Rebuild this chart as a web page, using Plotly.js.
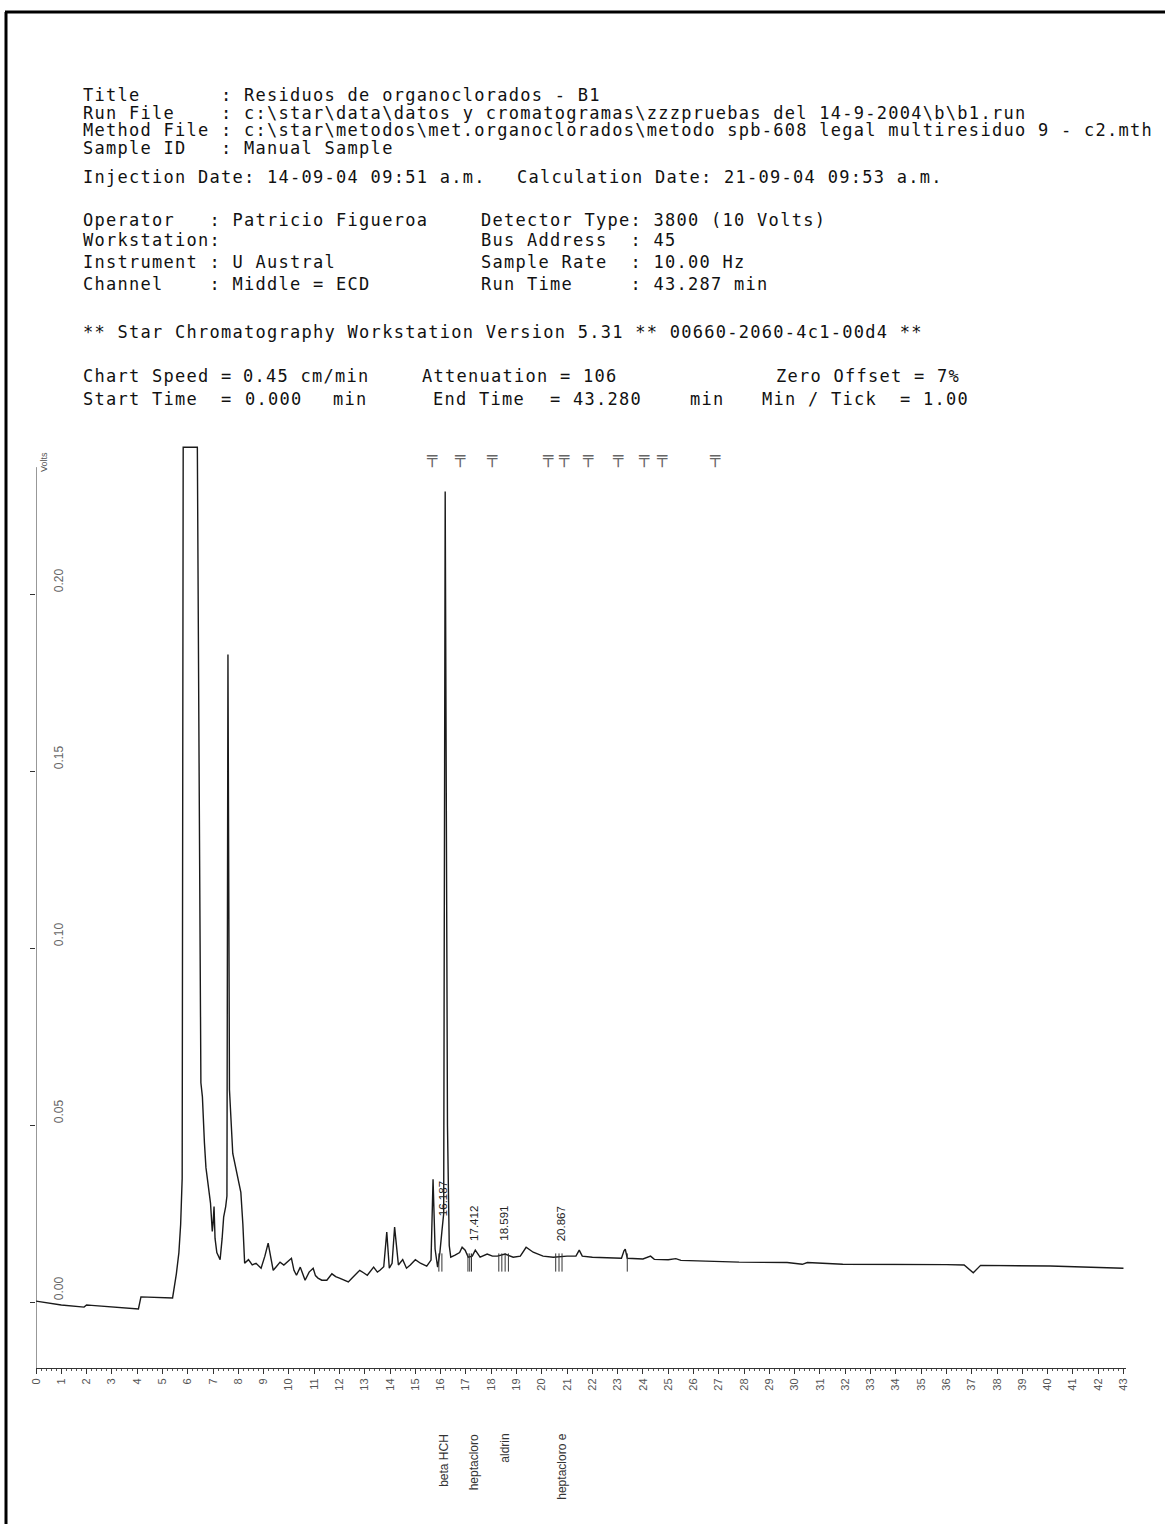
<!DOCTYPE html>
<html>
<head>
<meta charset="utf-8">
<script src="https://cdn.plot.ly/plotly-3.0.1.min.js"></script>
<style>
  html, body { margin: 0; padding: 0; background: #ffffff; }
  #wrap { position: relative; width: 1165px; height: 1524px; }
  #chart { position: absolute; left: 0; top: 0; width: 1165px; height: 1524px; }
  #header { position: absolute; left: 0; top: 0; width: 1165px; height: 430px; pointer-events: none; }
  .hl { position: absolute; white-space: pre; font-family: "DejaVu Sans Mono", monospace;
        font-size: 17px; line-height: 17px; letter-spacing: 1.27px; color: #111; }
</style>
</head>
<body>
<div id="wrap">
  <div id="chart"></div>
  <div id="header"></div>
</div>
<script>
// ---------------- DATA ----------------
// Retention time (min) and detector signal (Volts)
const timeMin = [
  0.0, 1.0, 1.9, 2.0, 2.2, 3.0, 3.9, 4.05, 4.15, 5.4, 5.55, 5.65, 5.72, 5.78, 5.82,
  6.38, 6.45, 6.52, 6.58, 6.62, 6.66, 6.72, 6.8, 6.9, 6.97, 7.0, 7.04, 7.08, 7.15,
  7.28, 7.36, 7.42, 7.5, 7.55, 7.59, 7.65, 7.78, 8.0, 8.1, 8.18, 8.25, 8.4, 8.55,
  8.7, 8.9, 9.05, 9.18, 9.3, 9.38, 9.5, 9.65, 9.8, 9.93, 10.1, 10.2, 10.3, 10.45,
  10.55, 10.64, 10.8, 10.96, 11.05, 11.15, 11.3, 11.5, 11.7, 11.85, 12.0, 12.2,
  12.35, 12.5, 12.8, 12.95, 13.1, 13.35, 13.5, 13.6, 13.75, 13.87, 13.97, 14.08,
  14.18, 14.33, 14.5, 14.65, 14.8, 15.0, 15.2, 15.45, 15.62, 15.7, 15.78, 15.88,
  15.97, 16.05, 16.12, 16.18, 16.27, 16.34, 16.4, 16.57, 16.75, 16.85, 16.97,
  17.09, 17.25, 17.37, 17.56, 17.84, 18.05, 18.24, 18.4, 18.55, 18.87, 19.15,
  19.38, 19.5, 19.66, 20.05, 20.45, 21.0, 21.35, 21.48, 21.6, 22.0, 22.82, 23.15,
  23.25, 23.3, 23.38, 24.0, 24.3, 24.45, 25.0, 25.3, 25.5, 27.8, 29.7, 30.3, 30.5,
  31.9, 36.0, 36.7, 37.06, 37.35, 40.1, 43.0
];
const signalV = [
  0.0003, -0.0008, -0.0014, -0.0008, -0.0009, -0.0014, -0.0020, -0.0019, 0.0015, 0.0012, 0.0080, 0.0140, 0.0220, 0.0350, 0.2415,
  0.2415, 0.1500, 0.0620, 0.0580, 0.0500, 0.0450, 0.0380, 0.0330, 0.0280, 0.0200, 0.0220, 0.0270, 0.0180, 0.0140,
  0.0120, 0.0180, 0.0240, 0.0270, 0.0300, 0.1830, 0.0600, 0.0420, 0.0340, 0.0310, 0.0220, 0.0110, 0.0120, 0.0105,
  0.0110, 0.0096, 0.0130, 0.0167, 0.0120, 0.0090, 0.0100, 0.0113, 0.0105, 0.0113, 0.0124, 0.0090, 0.0076, 0.0099,
  0.0080, 0.0062, 0.0085, 0.0096, 0.0075, 0.0068, 0.0062, 0.0062, 0.0080, 0.0072, 0.0068, 0.0062,
  0.0057, 0.0068, 0.0090, 0.0083, 0.0076, 0.0099, 0.0085, 0.0090, 0.0100, 0.0198, 0.0096, 0.0110,
  0.0212, 0.0105, 0.0120, 0.0096, 0.0105, 0.0120, 0.0110, 0.0102, 0.0119, 0.0347, 0.0150, 0.0099,
  0.0140, 0.0200, 0.0250, 0.2290, 0.0500, 0.0160, 0.0127, 0.0133, 0.0140, 0.0155, 0.0147,
  0.0127, 0.0130, 0.0147, 0.0127, 0.0136, 0.0130, 0.0130, 0.0133, 0.0136, 0.0127, 0.0130,
  0.0155, 0.0150, 0.0141, 0.0130, 0.0127, 0.0130, 0.0130, 0.0147, 0.0130, 0.0127, 0.0124, 0.0124,
  0.0145, 0.0150, 0.0124, 0.0122, 0.0130, 0.0121, 0.0120, 0.0123, 0.0118, 0.0113, 0.0112, 0.0107, 0.0112,
  0.0107, 0.0106, 0.0105, 0.0083, 0.0104, 0.0102, 0.0096
];

// Identified peaks
const peakTimes  = [16.187, 17.412, 18.591, 20.867];
const peakLabels = ["16.187", "17.412", "18.591", "20.867"];
const peakNames  = ["beta HCH", "heptacloro", "aldrin", "heptacloro e"];
const peakLabelBase = [0.0237, 0.0167, 0.0167, 0.0167];

// Integration marks (start/end of peaks)
const integrationTimes = [15.93, 16.05, 17.08, 17.15, 17.22, 18.30, 18.42, 18.55, 18.68, 20.55, 20.68, 20.80, 23.38];

// Event marks printed above the chart
const eventTimes = [15.66, 16.77, 18.04, 20.25, 20.89, 21.84, 23.02, 24.05, 24.76, 26.86];

// Y axis ticks
const yTickVals = [0.00, 0.05, 0.10, 0.15, 0.20];
const yTickText = ["0.00", "0.05", "0.10", "0.15", "0.20"];

// Header report text
const headerText = [
  "Title       : Residuos de organoclorados - B1",
  "Run File    : c:\\star\\data\\datos y cromatogramas\\zzzpruebas del 14-9-2004\\b\\b1.run",
  "Method File : c:\\star\\metodos\\met.organoclorados\\metodo spb-608 legal multiresiduo 9 - c2.mth",
  "Sample ID   : Manual Sample",
  "Injection Date: 14-09-04 09:51 a.m.",
  "Calculation Date: 21-09-04 09:53 a.m.",
  "Operator   : Patricio Figueroa",
  "Workstation:",
  "Instrument : U Austral",
  "Channel    : Middle = ECD",
  "Detector Type: 3800 (10 Volts)",
  "Bus Address  : 45",
  "Sample Rate  : 10.00 Hz",
  "Run Time     : 43.287 min",
  "** Star Chromatography Workstation Version 5.31 ** 00660-2060-4c1-00d4 **",
  "Chart Speed =",
  "0.45 cm/min",
  "Attenuation = 106",
  "Zero Offset = 7%",
  "Start Time  =",
  "0.000",
  "min",
  "End Time",
  "= 43.280",
  "min",
  "Min / Tick  = 1.00"
];
// placement of each header piece: [left px, row centre px]
const headerPlace = [
  [83, 96], [83, 114], [83, 131], [83, 149],
  [83, 178], [517, 178],
  [83, 221], [83, 241], [83, 263], [83, 285],
  [481, 221], [481, 241], [481, 263], [481, 285],
  [83, 333],
  [83, 377], [243, 377], [422, 377], [776, 377],
  [83, 400], [245, 400], [333, 400], [433, 400], [550, 400], [690, 400], [762, 400]
];

// ---------------- HEADER (text) ----------------
const hdr = document.getElementById("header");
headerText.forEach((s, i) => {
  const d = document.createElement("div");
  d.className = "hl";
  d.textContent = s;
  d.style.left = headerPlace[i][0] + "px";
  d.style.top = (headerPlace[i][1] - 9) + "px";
  hdr.appendChild(d);
});

// ---------------- LAYOUT HELPERS ----------------
const FIG_W = 1165, FIG_H = 1524;
const M = { l: 36, r: 39, t: 442, b: 156 };
const PW = FIG_W - M.l - M.r, PH = FIG_H - M.t - M.b;
const px2x = p => (p - M.l) / PW;
const py2y = p => (FIG_H - M.b - p) / PH;

const annotations = [];

// y tick labels (printed inside, rotated, above each tick)
yTickVals.forEach((v, i) => {
  annotations.push({
    xref: "paper", yref: "y", x: px2x(59), y: v,
    xanchor: "center", yanchor: "bottom", textangle: -90, showarrow: false,
    text: yTickText[i],
    font: { family: "Liberation Sans", size: 12, color: "#666" }
  });
});

// peak retention labels and compound names
peakTimes.forEach((t, i) => {
  annotations.push({
    xref: "x", yref: "y", x: t, y: peakLabelBase[i], xshift: -3,
    xanchor: "center", yanchor: "bottom", textangle: -90, showarrow: false,
    text: peakLabels[i],
    font: { family: "Liberation Sans", size: 11.5, color: "#222" }
  });
  annotations.push({
    xref: "x", yref: "paper", x: t, y: py2y(1432), xshift: -2,
    xanchor: "center", yanchor: "top", textangle: -90, showarrow: false,
    text: peakNames[i],
    font: { family: "Liberation Sans", size: 12, color: "#333" }
  });
});

// event marks above plot
eventTimes.forEach(t => {
  annotations.push({
    xref: "x", yref: "paper", x: t, y: py2y(457),
    xanchor: "center", yanchor: "middle", showarrow: false,
    text: "\u2564",
    font: { family: "DejaVu Sans Mono", size: 17, color: "#666" }
  });
});

// y unit label
annotations.push({
  xref: "paper", yref: "paper", x: px2x(44), y: py2y(462),
  xanchor: "center", yanchor: "middle", textangle: -90, showarrow: false,
  text: "Volts", font: { family: "Liberation Sans", size: 9, color: "#555" }
});

const traces = [
  {
    type: "scatter", mode: "lines", x: timeMin, y: signalV,
    line: { color: "#1a1a1a", width: 1.4 }, hoverinfo: "skip", showlegend: false
  },
  {
    type: "scatter", mode: "markers", x: integrationTimes,
    y: integrationTimes.map(() => 0.0112),
    marker: { symbol: "line-ns", size: 13, line: { width: 1, color: "#333" } },
    hoverinfo: "skip", showlegend: false
  }
];

const layout = {
  width: FIG_W, height: FIG_H,
  margin: M,
  paper_bgcolor: "#ffffff", plot_bgcolor: "#ffffff",
  showlegend: false,
  xaxis: {
    range: [0, 43.1], tickmode: "linear", tick0: 0, dtick: 1,
    ticks: "outside", ticklen: 5, tickcolor: "#333", tickwidth: 1,
    showline: true, linecolor: "#333", linewidth: 1,
    showgrid: false, zeroline: false, tickangle: -90,
    tickfont: { family: "Liberation Sans", size: 11, color: "#555" },
    minor: { dtick: 0.2, tick0: 0, ticks: "outside", ticklen: 2, tickcolor: "#555", showgrid: false }
  },
  yaxis: {
    range: [-0.0186, 0.2430], tickmode: "array", tickvals: yTickVals,
    ticks: "outside", ticklen: 5, tickcolor: "#333",
    showticklabels: false,
    showline: false, showgrid: false, zeroline: false
  },
  shapes: [
    { type: "line", xref: "x", yref: "y", x0: 0, x1: 0, y0: -0.0186, y1: 0.2359,
      line: { color: "#333", width: 1 } },
    { type: "line", xref: "paper", yref: "paper", x0: px2x(6), x1: px2x(6), y0: py2y(12), y1: py2y(1530),
      line: { color: "#000", width: 3 } },
    { type: "line", xref: "paper", yref: "paper", x0: px2x(5), x1: px2x(1170), y0: py2y(12), y1: py2y(12),
      line: { color: "#000", width: 3 } }
  ],
  annotations: annotations
};

Plotly.newPlot("chart", traces, layout, { staticPlot: true, displayModeBar: false });
</script>
</body>
</html>
